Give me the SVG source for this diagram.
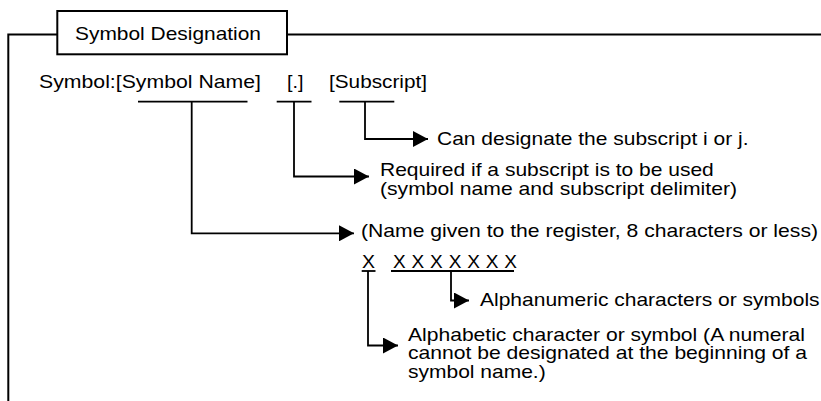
<svg xmlns="http://www.w3.org/2000/svg" width="821" height="401" viewBox="0 0 821 401">
<style>
text{font-family:"Liberation Sans",Arial,sans-serif;font-size:19px;fill:#000}
.ln{fill:none;stroke:#000;stroke-width:1.8}
.fr{fill:none;stroke:#000;stroke-width:2}
</style>
<defs>
<marker id="ah" markerUnits="userSpaceOnUse" markerWidth="16" markerHeight="16" refX="15" refY="8" orient="auto" viewBox="0 0 16 16">
<path d="M0,0 L15,8 L0,16 Z" fill="#000"/>
</marker>
</defs>
<rect width="821" height="401" fill="#fff"/>
<g id="frame">
<path class="fr" d="M8.3,401 V34.5 H57.3 M287,34.5 H821"/>
</g>
<g id="title">
<rect x="57.3" y="11" width="229.7" height="43.3" fill="#fff" stroke="#000" stroke-width="2"/>
<text x="75" y="39.5" textLength="186" lengthAdjust="spacingAndGlyphs">Symbol Designation</text>
</g>
<g id="syntax">
<text x="39" y="88" textLength="222" lengthAdjust="spacingAndGlyphs">Symbol:[Symbol Name]</text>
<text x="287" y="88" textLength="16.5" lengthAdjust="spacingAndGlyphs">[.]</text>
<text x="329" y="88" textLength="98" lengthAdjust="spacingAndGlyphs">[Subscript]</text>
</g>
<g id="note-subscript">
<text x="437" y="145" textLength="311.6" lengthAdjust="spacingAndGlyphs">Can designate the subscript i or j.</text>
</g>
<g id="note-delimiter">
<text x="380" y="176" textLength="333.8" lengthAdjust="spacingAndGlyphs">Required if a subscript is to be used</text>
<text x="380" y="194.5" textLength="357" lengthAdjust="spacingAndGlyphs">(symbol name and subscript delimiter)</text>
</g>
<g id="note-name">
<text x="361" y="237" textLength="457" lengthAdjust="spacingAndGlyphs">(Name given to the register, 8 characters or less)</text>
</g>
<g id="name-format">
<text x="362" y="268" textLength="13" lengthAdjust="spacingAndGlyphs">X</text>
<text x="393" y="268" textLength="124" lengthAdjust="spacing">XXXXXXX</text>
</g>
<g id="note-alnum">
<text x="480" y="306" textLength="339.6" lengthAdjust="spacingAndGlyphs">Alphanumeric characters or symbols</text>
</g>
<g id="note-alpha">
<text x="408" y="341" textLength="397" lengthAdjust="spacingAndGlyphs">Alphabetic character or symbol (A numeral</text>
<text x="408" y="359.3" textLength="399" lengthAdjust="spacingAndGlyphs">cannot be designated at the beginning of a</text>
<text x="408" y="377.6" textLength="137.7" lengthAdjust="spacingAndGlyphs">symbol name.)</text>
</g>
<g id="connectors">
<path class="ln" d="M138,101.7 H247.5"/>
<path class="ln" d="M276.7,101.7 H311.5"/>
<path class="ln" d="M339.3,101.7 H394.3"/>
<path class="ln" d="M361.7,271 H375.5"/>
<path class="ln" d="M391,271 H514"/>
<path class="ln" d="M365,101.7 V139 H428" marker-end="url(#ah)"/>
<path class="ln" d="M294,101.7 V176.5 H369" marker-end="url(#ah)"/>
<path class="ln" d="M191.7,101.7 V233.3 H354" marker-end="url(#ah)"/>
<path class="ln" d="M451,271 V300.5 H469" marker-end="url(#ah)"/>
<path class="ln" d="M368,271 V345.5 H398" marker-end="url(#ah)"/>
</g>
</svg>
